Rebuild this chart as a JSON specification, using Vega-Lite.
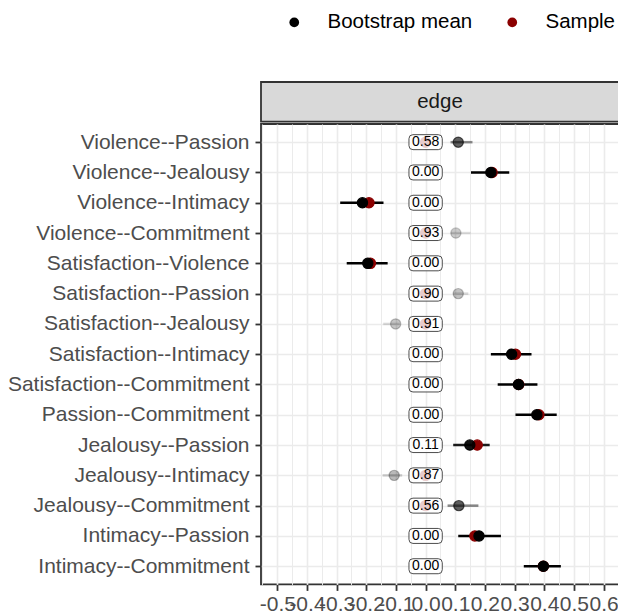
{
  "$schema": "https://vega.github.io/schema/vega-lite/v6.json",
  "padding": {"top": 12, "left": 0, "right": 0, "bottom": 0},
  "background": "white",
  "config": {"font": "Liberation Sans", "view": {"stroke": null}},
  "spacing": 0,
  "datasets": {
    "strip": [{"label": "edge"}],
    "edges": [
      {"edge": "Violence--Passion", "mean": 0.110, "sample": 0, "lower": 0.084, "upper": 0.158, "prop0": 0.58},
      {"edge": "Violence--Jealousy", "mean": 0.220, "sample": 0.224, "lower": 0.153, "upper": 0.282, "prop0": 0.00},
      {"edge": "Violence--Intimacy", "mean": -0.213, "sample": -0.191, "lower": -0.288, "upper": -0.142, "prop0": 0.00},
      {"edge": "Violence--Commitment", "mean": 0.102, "sample": 0, "lower": 0.085, "upper": 0.152, "prop0": 0.93},
      {"edge": "Satisfaction--Violence", "mean": -0.195, "sample": -0.186, "lower": -0.266, "upper": -0.128, "prop0": 0.00},
      {"edge": "Satisfaction--Passion", "mean": 0.110, "sample": 0, "lower": 0.093, "upper": 0.144, "prop0": 0.90},
      {"edge": "Satisfaction--Jealousy", "mean": -0.101, "sample": 0, "lower": -0.143, "upper": -0.087, "prop0": 0.91},
      {"edge": "Satisfaction--Intimacy", "mean": 0.290, "sample": 0.303, "lower": 0.220, "upper": 0.357, "prop0": 0.00},
      {"edge": "Satisfaction--Commitment", "mean": 0.313, "sample": 0.314, "lower": 0.243, "upper": 0.377, "prop0": 0.00},
      {"edge": "Passion--Commitment", "mean": 0.375, "sample": 0.382, "lower": 0.303, "upper": 0.442, "prop0": 0.00},
      {"edge": "Jealousy--Passion", "mean": 0.149, "sample": 0.174, "lower": 0.093, "upper": 0.216, "prop0": 0.11},
      {"edge": "Jealousy--Intimacy", "mean": -0.106, "sample": 0, "lower": -0.145, "upper": -0.079, "prop0": 0.87},
      {"edge": "Jealousy--Commitment", "mean": 0.112, "sample": 0, "lower": 0.074, "upper": 0.178, "prop0": 0.56},
      {"edge": "Intimacy--Passion", "mean": 0.180, "sample": 0.166, "lower": 0.110, "upper": 0.254, "prop0": 0.00},
      {"edge": "Intimacy--Commitment", "mean": 0.397, "sample": 0.397, "lower": 0.331, "upper": 0.456, "prop0": 0.00}
    ]
  },
  "vconcat": [
    {
      "width": 358,
      "height": 39.6,
      "data": {"name": "strip"},
      "view": {"fill": "#D9D9D9", "stroke": "#333333", "strokeWidth": 1.8},
      "mark": {"type": "text", "fontSize": 20.5, "color": "#1A1A1A", "font": "Liberation Sans", "baseline": "middle", "align": "center"},
      "encoding": {"text": {"field": "label", "type": "nominal"}}
    },
    {
      "width": 358,
      "height": 460.4,
      "data": {"name": "edges"},
      "view": {"fill": "white", "stroke": "#333333", "strokeWidth": 1.8},
      "resolve": {"axis": {"x": "independent"}},
      "layer": [
        {
          "mark": {"type": "rule", "strokeWidth": 2.5, "color": "black"},
          "encoding": {
            "y": {"field": "edge", "type": "nominal", "sort": null, "scale": {"type": "point", "padding": 0.6},
              "axis": {"title": null, "labelFontSize": 21, "labelColor": "#4D4D4D", "labelFont": "Liberation Sans", "labelLimit": 0, "tickSize": 6, "tickColor": "#333333", "tickWidth": 1.8, "domain": false, "grid": true, "gridColor": "#EBEBEB", "gridWidth": 1.6, "labelPadding": 6, "minExtent": 259.3, "maxExtent": 259.3}},
            "x": {"field": "lower", "type": "quantitative", "scale": {"domain": [-0.555, 0.652], "nice": false, "zero": false},
              "axis": {"orient": "top", "values": [-0.55, -0.45, -0.35, -0.25, -0.15, -0.05, 0.05, 0.15, 0.25, 0.35, 0.45, 0.55, 0.65], "grid": true, "gridColor": "#EBEBEB", "gridWidth": 1.0, "labels": false, "ticks": false, "domain": false, "title": null, "minExtent": 0, "maxExtent": 0}},
            "x2": {"field": "upper"},
            "opacity": {"field": "prop0", "type": "quantitative", "scale": {"domain": [0, 1], "range": [1, 0.05]}, "legend": null}
          }
        },
        {
          "mark": {"type": "point", "filled": true, "size": 105, "opacity": 1, "stroke": "#8B0000", "strokeWidth": 1.2},
          "encoding": {
            "y": {"field": "edge", "type": "nominal", "sort": null},
            "x": {"field": "sample", "type": "quantitative", "scale": {"domain": [-0.555, 0.652], "nice": false, "zero": false}, "axis": null},
            "color": {"datum": "Sample", "type": "nominal"}
          }
        },
        {
          "mark": {"type": "point", "filled": true, "size": 105, "opacity": 1, "stroke": "black", "strokeWidth": 1.2},
          "encoding": {
            "y": {"field": "edge", "type": "nominal", "sort": null},
            "x": {"field": "mean", "type": "quantitative", "scale": {"domain": [-0.555, 0.652], "nice": false, "zero": false},
              "axis": {"orient": "bottom", "values": [-0.5, -0.4, -0.3, -0.2, -0.1, 0, 0.1, 0.2, 0.3, 0.4, 0.5, 0.6], "labelExpr": "replace(format(datum.value, '.1f'), '\u2212', '-')", "title": null, "labelFontSize": 21, "labelColor": "#4D4D4D", "labelFont": "Liberation Sans", "labelOverlap": false, "labelFlush": false, "labelBound": false, "tickSize": 6, "tickColor": "#333333", "tickWidth": 1.8, "domain": false, "grid": true, "gridColor": "#EBEBEB", "gridWidth": 1.6, "labelPadding": 3}},
            "color": {"datum": "Bootstrap mean", "type": "nominal",
              "scale": {"domain": ["Bootstrap mean", "Sample"], "range": ["#000000", "#8B0000"]},
              "legend": {"orient": "none", "legendX": 23, "legendY": -70, "direction": "horizontal", "title": null, "labelFontSize": 20.5, "labelColor": "#000000", "labelFont": "Liberation Sans", "symbolType": "circle", "symbolSize": 95, "symbolStrokeWidth": 0, "symbolOpacity": 1, "labelOffset": 23, "columnPadding": 29, "padding": 0}},
            "fillOpacity": {"field": "prop0", "type": "quantitative", "scale": {"domain": [0, 0.58, 1], "range": [1, 0.62, 0.12]}, "legend": null},
            "strokeOpacity": {"field": "prop0", "type": "quantitative", "scale": {"domain": [0, 0.58, 1], "range": [1, 0.62, 0.12]}, "legend": null}
          }
        },
        {
          "mark": {"type": "point", "filled": true, "size": 1109, "fill": "white", "fillOpacity": 0.8, "stroke": "#4D4D4D", "strokeWidth": 1, "opacity": 1,
            "shape": "M -0.76 -0.45 L 0.76 -0.45 Q 1 -0.45 1 -0.21 L 1 0.21 Q 1 0.45 0.76 0.45 L -0.76 0.45 Q -1 0.45 -1 0.21 L -1 -0.21 Q -1 -0.45 -0.76 -0.45 Z"},
          "encoding": {
            "y": {"field": "edge", "type": "nominal", "sort": null},
            "x": {"datum": 0, "type": "quantitative", "scale": {"domain": [-0.555, 0.652], "nice": false, "zero": false}, "axis": null}
          }
        },
        {
          "mark": {"type": "text", "fontSize": 14, "color": "#000000", "font": "Liberation Sans", "align": "center", "baseline": "middle"},
          "encoding": {
            "y": {"field": "edge", "type": "nominal", "sort": null},
            "x": {"datum": 0, "type": "quantitative", "scale": {"domain": [-0.555, 0.652], "nice": false, "zero": false}, "axis": null},
            "text": {"field": "prop0", "type": "quantitative", "format": ".2f"}
          }
        }
      ]
    }
  ]
}
